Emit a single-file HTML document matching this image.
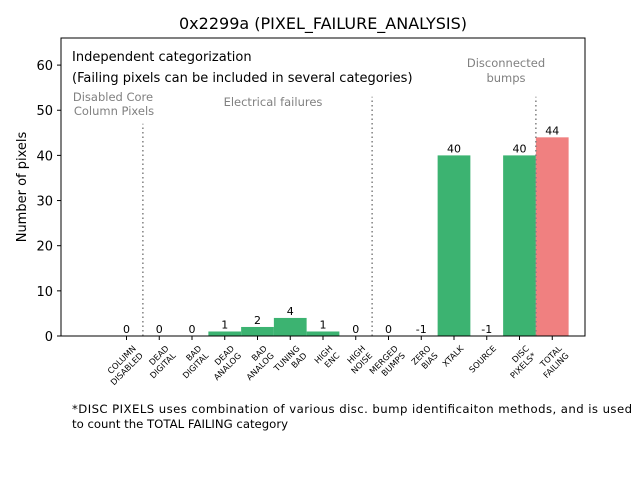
<!DOCTYPE html>
<html><head><meta charset="utf-8"><style>
body{margin:0;background:#fff;}
svg{display:block;font-family:"DejaVu Sans","Liberation Sans",sans-serif;}
</style></head><body>
<svg id="chart" width="640" height="480">
<text x="323" y="29" text-anchor="middle" font-size="16">0x2299a (PIXEL_FAILURE_ANALYSIS)</text>
<text transform="translate(26,187) rotate(-90)" text-anchor="middle" font-size="13">Number of pixels</text>
<g id="plot"></g>
<text x="72" y="61" font-size="13">Independent categorization</text>
<text x="72" y="82" font-size="13">(Failing pixels can be included in several categories)</text>
<text x="113" y="101" text-anchor="middle" font-size="11.5" fill="#808080">Disabled Core</text>
<text x="114" y="115" text-anchor="middle" font-size="11.5" fill="#808080">Column Pixels</text>
<text x="273" y="106" text-anchor="middle" font-size="11.5" fill="#808080">Electrical failures</text>
<text x="506" y="67" text-anchor="middle" font-size="11.5" fill="#808080">Disconnected</text>
<text x="506" y="82" text-anchor="middle" font-size="11.5" fill="#808080">bumps</text>
<text x="72" y="413" font-size="11.7" textLength="560">*DISC PIXELS uses combination of various disc. bump identificaiton methods, and is used</text>
<text x="72" y="428" font-size="11.7">to count the TOTAL FAILING category</text>
</svg>
<script>
const categories=[["COLUMN","DISABLED"],["DEAD","DIGITAL"],["BAD","DIGITAL"],["DEAD","ANALOG"],["BAD","ANALOG"],["TUNING","BAD"],["HIGH","ENC"],["HIGH","NOISE"],["MERGED","BUMPS"],["ZERO","BIAS"],["XTALK"],["SOURCE"],["DISC","PIXELS*"],["TOTAL","FAILING"]];
const values=[0,0,0,1,2,4,1,0,0,-1,40,-1,40,44];
const yTicks=[0,10,20,30,40,50,60];
const separators=[[0.5,47],[7.5,53],[12.5,53]];
const L=61,R=585,T=38,B=336,xMin=-2,xMax=14,yMax=66;
const xs=v=>L+(v-xMin)/(xMax-xMin)*(R-L);
const ys=v=>B-v/yMax*(B-T);
const NS="http://www.w3.org/2000/svg";
const g=document.getElementById('plot');
function mk(t,a,p){const e=document.createElementNS(NS,t);for(const k in a)e.setAttribute(k,a[k]);(p||g).appendChild(e);return e;}
values.forEach((v,i)=>{
 if(v>0){const r=mk('rect',{x:xs(i-0.5),y:ys(v),width:xs(i+0.5)-xs(i-0.5),height:B-ys(v),fill:i===13?'#f08080':'#3cb371'});
 
 }
 const t=mk('text',{x:xs(i),y:ys(Math.max(v,0))-3,'text-anchor':'middle','font-size':11});t.textContent=v;
 
 
 mk('line',{x1:xs(i),x2:xs(i),y1:B,y2:B+4,stroke:'#000'});
 const lt=mk('text',{'font-size':8.3,'text-anchor':'end',transform:`translate(${xs(i)+10},${B+13}) rotate(-45)`});
 
 
 categories[i].forEach((s,j)=>{const ts=mk('tspan',{x:0,dy:j?10:0},lt);ts.textContent=s;});
});
separators.forEach(s=>{const l=mk('line',{x1:xs(s[0]),x2:xs(s[0]),y1:B,y2:ys(s[1]),stroke:'#808080','stroke-width':1.5,'stroke-dasharray':'1.5,3'});
 
 });
yTicks.forEach(v=>{mk('line',{x1:L-4,x2:L,y1:ys(v),y2:ys(v),stroke:'#000'});
 const t=mk('text',{x:L-8,y:ys(v)+5,'text-anchor':'end','font-size':13});t.textContent=v;
 
 });
const f=mk('rect',{x:L,y:T,width:R-L,height:B-T,fill:'none',stroke:'#000','stroke-width':1});


</script>
</body></html>
